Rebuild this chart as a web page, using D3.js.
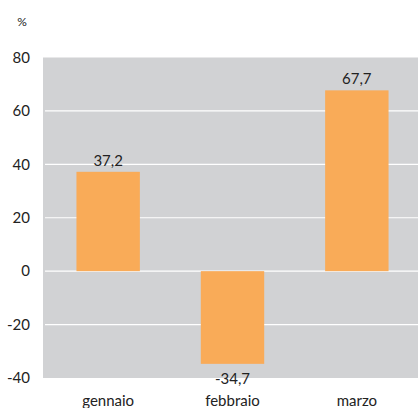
<!DOCTYPE html>
<html><head><meta charset="utf-8">
<script src="https://cdn.jsdelivr.net/npm/d3@7"></script>
<style>body{margin:0;background:#fff;}svg{display:block;font-family:Lato,"Open Sans",sans-serif;}</style>
</head><body>
<script>
const categories = ["gennaio","febbraio","marzo"];
const values = [37.2, -34.7, 67.7];
const valueLabels = ["37,2","-34,7","67,7"];
const yTicks = [-40,-20,0,20,40,60,80];

const W=418,H=408;
const svg=d3.select("body").append("svg").attr("width",W).attr("height",H);
const y=d3.scaleLinear().domain([-40,80]).range([378,57.5]);
const x=d3.scaleBand().domain(categories).range([46,419]).paddingInner(0.49).paddingOuter(0.245);

svg.append("rect").attr("x",43).attr("y",y(80)).attr("width",W-43).attr("height",y(-40)-y(80)).attr("fill","#d1d2d4");
svg.append("g").selectAll("line").data(yTicks.filter(t=>t>-40&&t<80)).join("line")
 .attr("x1",45).attr("x2",W).attr("y1",d=>y(d)).attr("y2",d=>y(d))
 .attr("stroke","#fff").attr("stroke-width",1.2);

const yAxis=d3.axisLeft(y).tickValues(yTicks).tickSize(0).tickPadding(0).tickFormat(d=>d);
const ga=svg.append("g").attr("transform","translate(30,0)").call(yAxis);
ga.select(".domain").remove();
ga.selectAll("text").attr("font-size",15).attr("fill","#222").attr("font-family","Lato,sans-serif");

svg.append("text").attr("x",22).attr("y",26).attr("text-anchor","middle").attr("font-size",12).attr("fill","#222").text("%");

svg.append("g").selectAll("rect").data(values).join("rect")
 .attr("x",(d,i)=>x(categories[i])).attr("width",x.bandwidth())
 .attr("y",d=>y(Math.max(0,d))).attr("height",d=>Math.abs(y(d)-y(0)))
 .attr("fill","#f9ab58");

svg.append("g").selectAll("text").data(values).join("text")
 .attr("x",(d,i)=>x(categories[i])+x.bandwidth()/2)
 .attr("y",d=>d>=0?y(d)-6:y(d)+20)
 .attr("text-anchor","middle").attr("font-size",15).attr("fill","#222")
 .text((d,i)=>valueLabels[i]);

const xAxis=d3.axisBottom(x).tickSize(0).tickPadding(0);
const gx=svg.append("g").attr("transform","translate(0,395)").call(xAxis);
gx.select(".domain").remove();
gx.selectAll("text").attr("font-size",15).attr("fill","#222").attr("font-family","Lato,sans-serif").attr("dy","0.71em");
</script>
</body></html>
